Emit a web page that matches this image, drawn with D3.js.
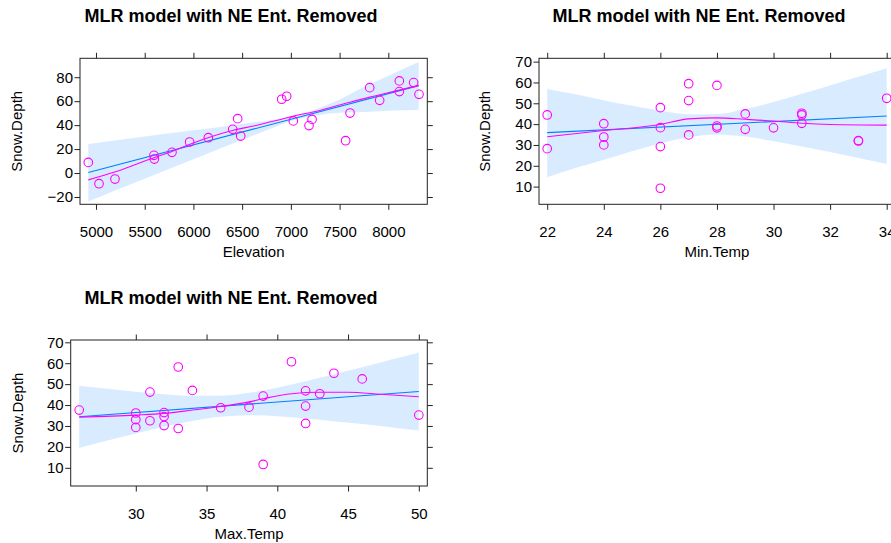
<!DOCTYPE html>
<html>
<head>
<meta charset="utf-8">
<script src="https://cdn.jsdelivr.net/npm/d3@7"></script>
<style>
  html, body { margin: 0; padding: 0; background: #fff; }
  svg { display: block; font-family: "Liberation Sans", Arial, sans-serif; }
</style>
</head>
<body>
<svg id="chart" width="891" height="543"></svg>
<script>
// ---------- DATA ----------
const titleText = "MLR model with NE Ent. Removed";
const yLabel = "Snow.Depth";

// Panel 1: Elevation
const elevX = [4921, 5031, 5195, 5595, 5599, 5780, 5961, 6153, 6403, 6454, 6485, 6906, 6957, 7025, 7186, 7217, 7562, 7607, 7809, 7911, 8113, 8113, 8260, 8315];
const elevY = [8.9, -8.9, -5.0, 14.8, 11.7, 17.3, 25.9, 29.5, 36.5, 45.4, 30.9, 61.6, 64.1, 43.5, 39.6, 44.8, 27.0, 50.1, 71.3, 60.7, 76.9, 68.0, 75.5, 65.7];
const elevFitX = [4921, 8312];
const elevFitY = [0.4, 73.0];
const elevBandX  = [4921, 5500, 6000, 6273, 6600, 6850, 7050, 7250, 7500, 7709, 8000, 8312];
const elevBandLo = [-23.7, -4.7, 11.5, 20.5, 30.9, 38.9, 44.4, 47.9, 50.4, 50.7, 52.1, 52.6];
const elevBandHi = [24.2, 30.5, 35.7, 38.5, 42.1, 44.9, 48.0, 53.1, 61.4, 70.1, 81.3, 92.7];
const elevSmoothX = [4921, 5200, 5600, 5780, 5965, 6150, 6410, 6630, 6850, 7050, 7217, 7500, 7800, 8100, 8312];
const elevSmoothY = [-5.7, 1.0, 13.0, 18.0, 24.0, 29.5, 35.8, 39.5, 43.8, 48.0, 50.8, 56.8, 63.2, 69.0, 73.2];
const elevTicksX = [5000, 5500, 6000, 6500, 7000, 7500, 8000];
const elevTicksY = [-20, 0, 20, 40, 60, 80];

// Panel 2: Min.Temp
const minX = [22, 22, 24, 24, 24, 26, 26, 26, 26, 27, 27, 27, 28, 28, 28, 29, 29, 30, 31, 31, 31, 33, 33, 34];
const minY = [44.4, 28.2, 40.2, 33.8, 30.0, 47.9, 38.3, 29.2, 9.2, 59.4, 51.3, 34.8, 58.6, 39.1, 38.2, 44.9, 37.5, 38.2, 45.2, 44.4, 40.4, 32.1, 31.9, 52.4];
const minFitX = [22, 34];
const minFitY = [35.9, 43.9];
const minBandX  = [22, 23, 24, 25, 26, 27, 28, 29, 30, 31, 32, 33, 34];
const minBandLo = [14.5, 18.9, 22.9, 27.0, 30.7, 33.7, 35.0, 34.0, 31.8, 29.3, 26.6, 23.7, 20.9];
const minBandHi = [56.9, 54.3, 51.5, 48.8, 46.5, 44.7, 44.8, 47.2, 50.6, 54.6, 58.6, 62.7, 66.8];
const minSmoothX = [22, 24, 26, 27, 28, 29, 30, 31, 32, 34];
const minSmoothY = [33.9, 36.9, 39.8, 42.5, 43.0, 42.3, 41.5, 40.4, 39.8, 39.5];
const minTicksX = [22, 24, 26, 28, 30, 32, 34];
const minTicksY = [10, 20, 30, 40, 50, 60, 70];

// Panel 3: Max.Temp
const maxX = [26, 30, 30, 30, 31, 31, 32, 32, 32, 33, 33, 34, 36, 38, 39, 39, 41, 42, 42, 42, 43, 44, 46, 50];
const maxY = [37.6, 36.2, 33.0, 29.3, 46.2, 32.5, 36.4, 34.5, 30.2, 58.2, 28.8, 47.0, 38.7, 39.0, 44.3, 11.6, 60.7, 46.8, 39.5, 31.2, 45.4, 55.2, 52.5, 35.2];
const maxFitX = [26, 50];
const maxFitY = [34.4, 46.5];
const maxBandX  = [26, 28, 30, 32, 34, 36, 38, 40, 42, 44, 46, 48, 50];
const maxBandLo = [19.5, 23.0, 26.4, 29.6, 32.4, 34.4, 35.1, 34.7, 33.6, 32.3, 30.9, 29.4, 27.8];
const maxBandHi = [49.2, 47.8, 46.4, 45.2, 44.4, 44.5, 45.9, 48.3, 51.4, 54.7, 58.1, 61.6, 65.1];
const maxSmoothX = [26, 30, 32, 34, 36, 38, 39, 41, 43, 45, 47.3, 50];
const maxSmoothY = [34.2, 35.2, 36.0, 37.6, 39.3, 41.5, 43.0, 45.4, 46.1, 46.1, 45.2, 44.0];
const maxTicksX = [30, 35, 40, 45, 50];
const maxTicksY = [10, 20, 30, 40, 50, 60, 70];

// ---------- LAYOUT ----------
const panels = [
  { xName: "Elevation", px: elevX, py: elevY, fitX: elevFitX, fitY: elevFitY,
    bx: elevBandX, blo: elevBandLo, bhi: elevBandHi, sx: elevSmoothX, sy: elevSmoothY,
    tx: elevTicksX, ty: elevTicksY,
    xDom: [4836, 8400], yDom: [-26.1, 95.8],
    box: { l: 80, r: 427.3, t: 58.3, b: 204.3 }, titleX: 231, titleY: 22, yTitleX: 22 },
  { xName: "Min.Temp", px: minX, py: minY, fitX: minFitX, fitY: minFitY,
    bx: minBandX, blo: minBandLo, bhi: minBandHi, sx: minSmoothX, sy: minSmoothY,
    tx: minTicksX, ty: minTicksY,
    xDom: [21.71, 34.29], yDom: [1.5, 71.6],
    box: { l: 539, r: 894.9, t: 58.3, b: 204.3 }, titleX: 699, titleY: 22, yTitleX: 490 },
  { xName: "Max.Temp", px: maxX, py: maxY, fitX: maxFitX, fitY: maxFitY,
    bx: maxBandX, blo: maxBandLo, bhi: maxBandHi, sx: maxSmoothX, sy: maxSmoothY,
    tx: maxTicksX, ty: maxTicksY,
    xDom: [25.4, 50.6], yDom: [1.3, 71.1],
    box: { l: 70.7, r: 427.3, t: 340, b: 486 }, titleX: 231, titleY: 303.7, yTitleX: 22.5 }
];

const svg = d3.select("#chart");
const TICK = 5.5;
const FS = 15;
const axisCol = "#222";

function fmt(v) { return v < 0 ? "\u2212" + Math.abs(v) : String(v); }

panels.forEach((p, i) => {
  const B = p.box;
  const x = d3.scaleLinear().domain(p.xDom).range([B.l, B.r]);
  const y = d3.scaleLinear().domain(p.yDom).range([B.b, B.t]);
  const g = svg.append("g");

  const clipId = "clip" + i;
  svg.append("clipPath").attr("id", clipId)
    .append("rect").attr("x", B.l).attr("y", B.t).attr("width", B.r - B.l).attr("height", B.b - B.t);

  const inner = g.append("g").attr("clip-path", `url(#${clipId})`);

  // confidence band
  const bandData = p.bx.map((v, k) => ({ x: v, lo: p.blo[k], hi: p.bhi[k] }));
  inner.append("path").datum(bandData)
    .attr("d", d3.area().x(d => x(d.x)).y0(d => y(d.lo)).y1(d => y(d.hi)).curve(d3.curveMonotoneX))
    .attr("fill", "#0080FF").attr("fill-opacity", 0.15).attr("stroke", "none");

  // fitted line
  const fitData = p.fitX.map((v, k) => ({ x: v, y: p.fitY[k] }));
  inner.append("path").datum(fitData)
    .attr("d", d3.line().x(d => x(d.x)).y(d => y(d.y)))
    .attr("fill", "none").attr("stroke", "#0080FF").attr("stroke-width", 1.1);

  // smooth
  const smData = p.sx.map((v, k) => ({ x: v, y: p.sy[k] }));
  inner.append("path").datum(smData)
    .attr("d", d3.line().x(d => x(d.x)).y(d => y(d.y)).curve(d3.curveMonotoneX))
    .attr("fill", "none").attr("stroke", "#FF00FF").attr("stroke-width", 1.1);

  // points
  const ptData = p.px.map((v, k) => ({ x: v, y: p.py[k] }));
  inner.selectAll("circle").data(ptData).enter().append("circle")
    .attr("cx", d => x(d.x)).attr("cy", d => y(d.y)).attr("r", 4.3)
    .attr("fill", "none").attr("stroke", "#FF00FF").attr("stroke-width", 1.1);

  // axes (lattice-style: ticks on all four sides, labels bottom & left)
  const axB = g.append("g").attr("transform", `translate(0,${B.b})`)
    .call(d3.axisBottom(x).tickValues(p.tx).tickSize(TICK).tickPadding(16.5).tickFormat(fmt));
  const axT = g.append("g").attr("transform", `translate(0,${B.t})`)
    .call(d3.axisTop(x).tickValues(p.tx).tickSize(TICK).tickFormat(""));
  const axL = g.append("g").attr("transform", `translate(${B.l},0)`)
    .call(d3.axisLeft(y).tickValues(p.ty).tickSize(TICK).tickPadding(1.5).tickFormat(fmt));
  const axR = g.append("g").attr("transform", `translate(${B.r},0)`)
    .call(d3.axisRight(y).tickValues(p.ty).tickSize(TICK).tickFormat(""));
  [axB, axT, axL, axR].forEach(a => {
    a.select(".domain").remove();
    a.selectAll(".tick line").attr("stroke", axisCol).attr("stroke-width", 1);
    a.selectAll("text").attr("fill", "#000").style("font-size", FS + "px")
      .style("font-family", "'Liberation Sans', Arial, sans-serif");
  });

  // box
  g.append("rect").attr("x", B.l).attr("y", B.t).attr("width", B.r - B.l).attr("height", B.b - B.t)
    .attr("fill", "none").attr("stroke", axisCol).attr("stroke-width", 1);

  // titles
  g.append("text").attr("x", p.titleX).attr("y", p.titleY).attr("text-anchor", "middle")
    .style("font-size", "18px").style("font-weight", "bold").attr("fill", "#000").text(titleText);
  g.append("text").attr("x", (B.l + B.r) / 2).attr("y", B.b + 52.7).attr("text-anchor", "middle")
    .style("font-size", FS + "px").attr("fill", "#000").text(p.xName);
  g.append("text").attr("transform", `translate(${p.yTitleX},${(B.t + B.b) / 2}) rotate(-90)`)
    .attr("text-anchor", "middle").style("font-size", FS + "px").attr("fill", "#000").text(yLabel);
});
</script>
</body>
</html>
